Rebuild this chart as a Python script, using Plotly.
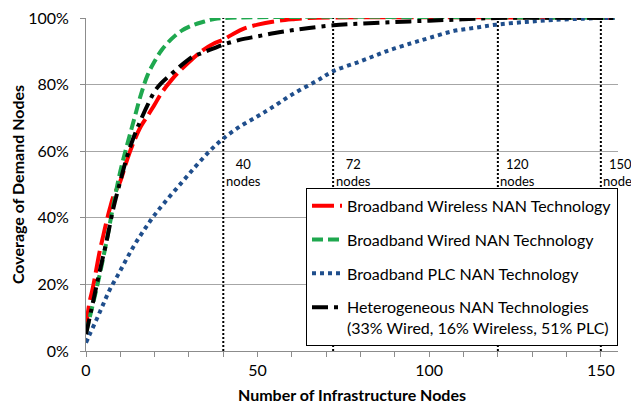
import plotly.graph_objects as go

# ---- data ----
wired_x = [0, 2, 4, 6, 8, 10, 12, 14, 16, 18, 20, 22, 25, 28, 31, 34, 37, 40, 154]
wired_y = [5.5, 14, 23, 33, 44, 54, 62, 69.5, 77, 83, 87, 90.3, 93.8, 96.3, 97.8, 98.8, 99.6, 100, 100]

wireless_x = [0, 1, 2, 3, 4, 5, 6, 7, 8, 10, 12, 14, 16, 18, 20, 22, 25, 28, 31, 34, 37, 40, 43, 46, 50, 55, 60, 65, 154]
wireless_y = [7, 14.5, 19, 24.5, 30, 34.5, 39, 43, 46.5, 51, 57.5, 63, 67.5, 70.7, 74, 77.5, 81.5, 84.8, 87.7, 90.3, 92.2, 93.5, 95.3, 96.8, 98, 99, 99.6, 100, 100]

plc_x = [0, 1, 3, 5, 7, 9.4, 11.8, 14.2, 16.9, 19.8, 23, 27.8, 32, 36, 40, 45, 50, 54, 60, 67, 72, 80, 87.5, 95, 100, 106.7, 113, 119.5, 128, 136, 145, 150, 154]
plc_y = [2.5, 4.8, 9.3, 14, 18.6, 23, 27.6, 32, 36.3, 40.6, 44.7, 50.5, 55.5, 60, 63.8, 67.5, 70.5, 73, 77, 81, 84, 87, 90, 92.5, 94, 96, 97, 98, 98.8, 99.4, 99.8, 100, 100]

hetero_x = [0, 2, 4, 6, 8, 10, 12, 14, 16, 18, 20, 22, 25, 28, 31, 34, 37, 40, 45, 50, 55, 60, 65, 72, 80, 90, 100, 110, 120, 154]
hetero_y = [5, 14.5, 24, 33, 43, 51, 58.5, 64.5, 69.5, 74, 78, 80.5, 83.3, 86, 88.3, 89.6, 90.8, 92, 93.5, 94.5, 95.5, 96.3, 97, 97.8, 98.3, 98.8, 99.2, 99.6, 100, 100]

marker_nodes = [40, 72, 120, 150]
marker_labels = ["40<br>nodes", "72<br>nodes", "120<br>nodes", "150<br>nodes"]

series_names = [
    "Broadband Wireless NAN Technology",
    "Broadband Wired NAN Technology",
    "Broadband PLC NAN Technology",
    "Heterogeneous NAN Technologies<br>(33% Wired, 16% Wireless, 51% PLC)",
]

FONT = "Lato"

fig = go.Figure()

# vertical dotted markers
for v in marker_nodes:
    fig.add_trace(go.Scatter(x=[v, v], y=[0, 1], mode="lines",
                             line=dict(color="black", width=2, dash="2px,2px"),
                             showlegend=False, hoverinfo="skip"))

def pct(vals):
    return [v / 100 for v in vals]

fig.add_trace(go.Scatter(x=wireless_x, y=pct(wireless_y), mode="lines", name=series_names[0],
                         line=dict(color="#ff0000", width=4, dash="22px,6px", shape="spline"),
                         legendgroup="a"))
fig.add_trace(go.Scatter(x=wired_x, y=pct(wired_y), mode="lines", name=series_names[1],
                         line=dict(color="#1fa84f", width=4, dash="11px,5px", shape="spline"),
                         legendgroup="b"))
fig.add_trace(go.Scatter(x=plc_x, y=pct(plc_y), mode="lines", name=series_names[2],
                         line=dict(color="#1f4e8c", width=4, dash="4px,4px", shape="spline"),
                         legendgroup="c"))
fig.add_trace(go.Scatter(x=hetero_x, y=pct(hetero_y), mode="lines", name=series_names[3],
                         line=dict(color="black", width=4, dash="16px,6px,4px,6px", shape="spline"),
                         legendgroup="d"))

for v, t in zip(marker_nodes, marker_labels):
    fig.add_annotation(x=v, y=0.535, text=t, showarrow=False, xanchor="center",
                       yanchor="middle", xshift=20, align="center",
                       font=dict(family=FONT, size=13, color="black"))

# the page body has an 8px margin, so the figure is drawn 8px in from the top-left
fig.update_layout(
    width=631, height=396,
    margin=dict(l=78, r=21, t=10, b=53),
    plot_bgcolor="white", paper_bgcolor="white",
    font=dict(family=FONT, color="black"),
    showlegend=True,
    legend=dict(x=1.0, y=0.49, xanchor="right", yanchor="top",
                bgcolor="white", bordercolor="black", borderwidth=1,
                font=dict(family=FONT, size=16, color="black"),
                traceorder="grouped", tracegroupgap=10, valign="top",
                itemwidth=30),
    xaxis=dict(range=[0, 155], dtick=50, tick0=0, showgrid=False, automargin=False,
               showline=True, linecolor="#8c8c8c", linewidth=1,
               ticks="outside", ticklen=5, tickcolor="#8c8c8c",
               minor=dict(dtick=10, ticks="outside", ticklen=5, tickcolor="#8c8c8c"),
               tickfont=dict(family=FONT, size=16), ticklabeloverflow="allow",
               title=dict(text="<b>Number of Infrastructure Nodes</b>",
                          font=dict(family=FONT, size=16), standoff=13),
               zeroline=False),
    yaxis=dict(range=[0, 1], dtick=0.2, tickformat=".0%", showgrid=True, automargin=False,
               gridcolor="#a6a6a6", gridwidth=1,
               showline=True, linecolor="#8c8c8c", linewidth=1,
               ticks="outside", ticklen=5, tickcolor="#8c8c8c",
               ticklabelstandoff=8, ticklabeloverflow="allow",
               tickfont=dict(family=FONT, size=16),
               title=dict(text="<b>Coverage of Demand Nodes</b>",
                          font=dict(family=FONT, size=16), standoff=8),
               zeroline=False),
)

fig.write_html("out.html")
